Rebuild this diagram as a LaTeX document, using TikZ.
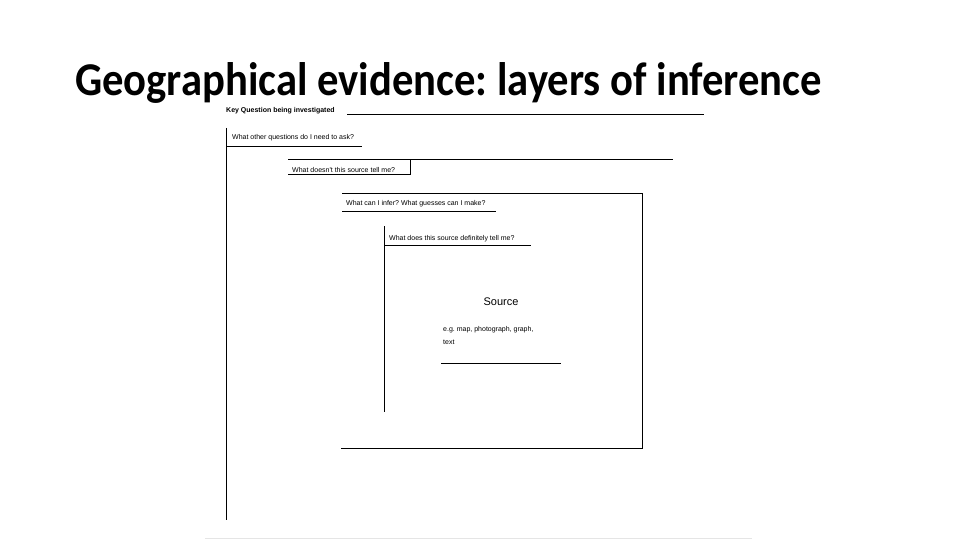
\documentclass[tikz,border=0pt]{standalone}
\usepackage{fontspec}
\setmainfont{Carlito}
\newfontfamily\formfont{Liberation Sans}
\frenchspacing
\begin{document}
\begin{tikzpicture}[x=1pt,y=-1pt,
  formline/.style={line width=1pt,black},
  formtext/.style={anchor=base west,inner sep=0pt,font=\formfont\fontsize{7}{8}\selectfont},
  titletext/.style={anchor=base west,inner sep=0pt,font=\bfseries\fontsize{47}{52}\selectfont}]
\useasboundingbox[fill=white] (0,0) rectangle (960,540);
\node[titletext] (title) at (75,96) {\resizebox{747pt}{\height}{Geographical evidence: layers of inference}};
\node[formtext,font=\formfont\bfseries\fontsize{7}{8}\selectfont] (key) at (226,113) {Key Question being investigated};
\node[formtext] (q1) at (232,140) {What other questions do I need to ask?};
\node[formtext] (q2) at (292,172) {What doesn't this source tell me?};
\node[formtext] (q3) at (346,205) {What can I infer? What guesses can I make?};
\node[formtext] (q4) at (389,240) {What does this source definitely tell me?};
\node[anchor=base,inner sep=0pt,font=\formfont\fontsize{11}{13}\selectfont] (src) at (501,305) {Source};
\node[formtext] (eg) at (443,331) {e.g. map, photograph, graph,};
\node[formtext] (tx) at (443,344) {text};
% key question underline
\draw[formline] (347,115) -- (704,115);
% outer layer
\draw[formline] (226,128) -- (226,520);
\draw[formline] (226,147) -- (362,147);
% second layer
\draw[formline] (288,160) -- (673,160);
\draw[formline] (410,160) -- (410,175) -- (288,175);
% third layer
\draw[formline] (342,193) -- (642,193) -- (642,448) -- (341,448);
\draw[formline] (342,211) -- (496,211);
% fourth layer
\draw[formline] (384,226) -- (384,412);
\draw[formline] (384,245) -- (531,245);
% source underline
\draw[formline] (441,363) -- (561,363);
% faint bottom rule
\draw[line width=1pt,black!10] (205,538) -- (752,538);
\end{tikzpicture}
\end{document}
